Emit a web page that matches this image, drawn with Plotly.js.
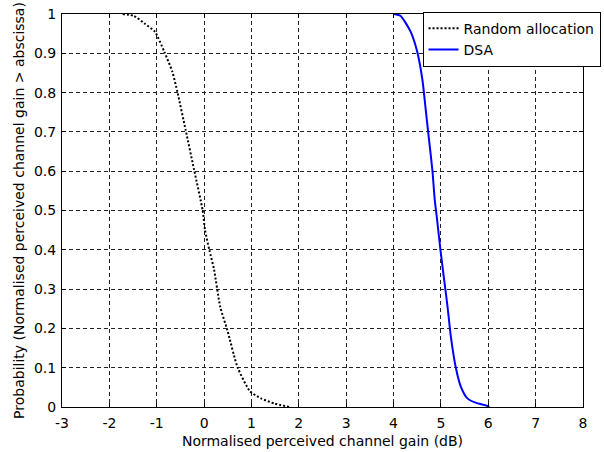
<!DOCTYPE html>
<html>
<head>
<meta charset="utf-8">
<script src="https://cdn.plot.ly/plotly-3.0.1.min.js"></script>
<style>html,body{margin:0;padding:0;background:#fff;}#chart{width:604px;height:452px;}</style>
</head>
<body>
<div id="chart"></div>
<script>
var randomX = [-1.72, -1.48, -1.26, -1.04, -0.84, -0.67, -0.56, -0.39, -0.21, -0.03, 0.02, 0.11, 0.21, 0.34, 0.49, 0.71, 0.97, 1.2, 1.48, 1.8];
var randomY = [1.0, 0.995, 0.976, 0.955, 0.904, 0.853, 0.80, 0.705, 0.603, 0.50, 0.45, 0.40, 0.35, 0.255, 0.196, 0.10, 0.04, 0.022, 0.009, 0.0];
var dsaX = [4.01, 4.15, 4.36, 4.50, 4.61, 4.68, 4.75, 4.82, 4.87, 4.92, 4.99, 5.06, 5.14, 5.21, 5.31, 5.42, 5.56, 5.73, 5.98, 6.02];
var dsaY = [1.0, 0.995, 0.955, 0.904, 0.832, 0.756, 0.679, 0.603, 0.527, 0.476, 0.40, 0.332, 0.255, 0.179, 0.103, 0.052, 0.022, 0.011, 0.003, 0.0];
var xTicks = [-3, -2, -1, 0, 1, 2, 3, 4, 5, 6, 7, 8];
var yTicks = [0, 0.1, 0.2, 0.3, 0.4, 0.5, 0.6, 0.7, 0.8, 0.9, 1];
var yTickText = ["0", "0.1", "0.2", "0.3", "0.4", "0.5", "0.6", "0.7", "0.8", "0.9", "1"];
var seriesNames = ["Random allocation", "DSA"];

var font = {family: "DejaVu Sans, Arial, sans-serif", size: 14, color: "#000"};

var traces = [
  {x: randomX, y: randomY, type: "scatter", mode: "lines", name: seriesNames[0],
   line: {color: "#000", width: 2, dash: "2px,2px", shape: "spline", smoothing: 0.6}},
  {x: dsaX, y: dsaY, type: "scatter", mode: "lines", name: seriesNames[1],
   line: {color: "#0000ff", width: 2, shape: "spline", smoothing: 0.6}}
];

var axisCommon = {
  showline: true, linecolor: "#000", linewidth: 1, mirror: "ticks",
  ticks: "inside", ticklen: 4, tickcolor: "#000",
  showgrid: true, gridcolor: "#222", gridwidth: 1, griddash: "4px,3px",
  zeroline: false, tickfont: font
};

var layout = {
  width: 604, height: 452,
  margin: {l: 62, r: 21, t: 14, b: 45, autoexpand: false},
  paper_bgcolor: "#fff", plot_bgcolor: "#fff",
  font: font,
  showlegend: true,
  legend: {x: 0.692, xanchor: "left", y: 1.006, yanchor: "top",
           bgcolor: "#fff", bordercolor: "#000", borderwidth: 1,
           font: font, tracegroupgap: 0},
  xaxis: Object.assign({}, axisCommon, {
    range: [-3, 8], tickvals: xTicks, ticktext: xTicks.map(String),
    ticklabelstandoff: 3,
    title: {text: "Normalised perceived channel gain (dB)", font: font, standoff: 6}
  }),
  yaxis: Object.assign({}, axisCommon, {
    range: [0, 1], tickvals: yTicks, ticktext: yTickText,
    ticklabelstandoff: 2,
    title: {text: "Probability (Normalised perceived channel gain > abscissa)", font: font, standoff: 6}
  })
};

Plotly.newPlot("chart", traces, layout, {displayModeBar: false, staticPlot: true});
</script>
</body>
</html>
